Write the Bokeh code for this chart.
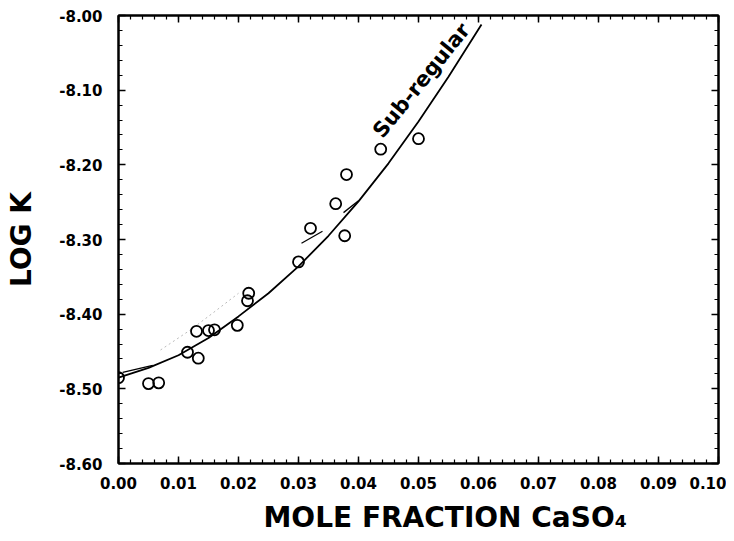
from bokeh.plotting import figure
from bokeh.models import (Range1d, LinearAxis, SingleIntervalTicker, NumeralTickFormatter,
                          CustomJSTickFormatter, Label, Title)
from bokeh.embed import file_html
from bokeh.resources import INLINE

# ---- data ----
obs_x = [0.0000, 0.0050, 0.0067, 0.0115, 0.0130, 0.0133, 0.0150, 0.0160, 0.0198,
         0.0215, 0.0217, 0.0300, 0.0320, 0.0362, 0.0377, 0.0380, 0.0437, 0.0500]
obs_y = [-8.485, -8.493, -8.492, -8.451, -8.423, -8.459, -8.422, -8.421, -8.415,
         -8.382, -8.372, -8.330, -8.285, -8.252, -8.295, -8.213, -8.179, -8.165]

fit_x = [0.000, 0.005, 0.010, 0.015, 0.020, 0.025, 0.030, 0.035, 0.040, 0.045,
         0.050, 0.055, 0.0605]
fit_y = [-8.485, -8.472, -8.455, -8.432, -8.403, -8.372, -8.336, -8.295, -8.249,
         -8.198, -8.142, -8.082, -8.012]

faint_x = [0.0070, 0.0120, 0.0158, 0.0200]
faint_y = [-8.448, -8.421, -8.398, -8.372]

seg_x0 = [0.0007, 0.0305, 0.0375]
seg_y0 = [-8.478, -8.305, -8.264]
seg_x1 = [0.0057, 0.0340, 0.0400]
seg_y1 = [-8.4685, -8.289, -8.248]

x_ticks_interval = 0.01
y_ticks_interval = 0.10

FONT = "DejaVu Sans"

p = figure(width=726, height=541, output_backend="svg", toolbar_location=None,
           x_range=Range1d(0.0, 0.10), y_range=Range1d(-8.60, -8.00),
           min_border_left=118, min_border_right=8, min_border_top=15, min_border_bottom=78,
           x_axis_location=None, y_axis_location=None)
p.grid.visible = False
p.outline_line_color = "black"
p.outline_line_width = 2
p.background_fill_color = "white"
p.border_fill_color = "white"


def style_axis(ax, interval, show_labels):
    ax.ticker = SingleIntervalTicker(interval=interval, num_minor_ticks=5)
    ax.axis_line_color = "black"
    ax.axis_line_width = 2
    ax.major_tick_in = 7
    ax.major_tick_out = 0
    ax.minor_tick_in = 4
    ax.minor_tick_out = 0
    ax.major_tick_line_width = 1.5
    ax.minor_tick_line_width = 1.2
    ax.major_tick_line_color = "black"
    ax.minor_tick_line_color = "black"
    if show_labels:
        ax.formatter = NumeralTickFormatter(format="0.00")
        ax.major_label_text_font = FONT
        ax.major_label_text_font_style = "bold"
        ax.major_label_text_font_size = "15px"
        ax.major_label_text_color = "black"
    else:
        ax.formatter = CustomJSTickFormatter(code="return ''")
        ax.major_label_standoff = 0


xb = LinearAxis()
style_axis(xb, x_ticks_interval, True)
xb.major_label_standoff = 13
p.add_layout(xb, "below")

yl = LinearAxis(axis_label="LOG K")
style_axis(yl, y_ticks_interval, True)
yl.major_label_standoff = 16
yl.axis_label_standoff = 18
yl.axis_label_text_font = FONT
yl.axis_label_text_font_style = "bold"
yl.axis_label_text_font_size = "28px"
yl.axis_label_text_color = "black"
p.add_layout(yl, "left")

xt = LinearAxis()
style_axis(xt, x_ticks_interval, False)
p.add_layout(xt, "above")

yr = LinearAxis()
style_axis(yr, y_ticks_interval, False)
p.add_layout(yr, "right")

# faint second curve
p.line(faint_x, faint_y, line_color="#bbbbbb", line_width=1, line_dash="2 3")

# fitted sub-regular curve
p.line(fit_x, fit_y, line_color="black", line_width=1.8)

# short curve pieces
p.segment(x0=seg_x0, y0=seg_y0, x1=seg_x1, y1=seg_y1, line_color="black", line_width=1.3)

# observations
p.scatter(obs_x, obs_y, marker="circle", size=11, fill_color=None,
          line_color="black", line_width=1.8)

p.add_layout(Label(x=0.0505, y=-8.087, text="Sub-regular", angle=51, angle_units="deg",
                   text_align="center", text_baseline="middle", text_font=FONT,
                   text_font_style="bold", text_font_size="21px", text_color="black"))

xlabel = Title(text="MOLE FRACTION CaSO\u2084", align="left", offset=145, standoff=15,
               text_font=FONT, text_font_style="bold", text_font_size="28px",
               text_color="black")
p.add_layout(xlabel, "below")

open("out.html", "w").write(file_html(p, INLINE))
